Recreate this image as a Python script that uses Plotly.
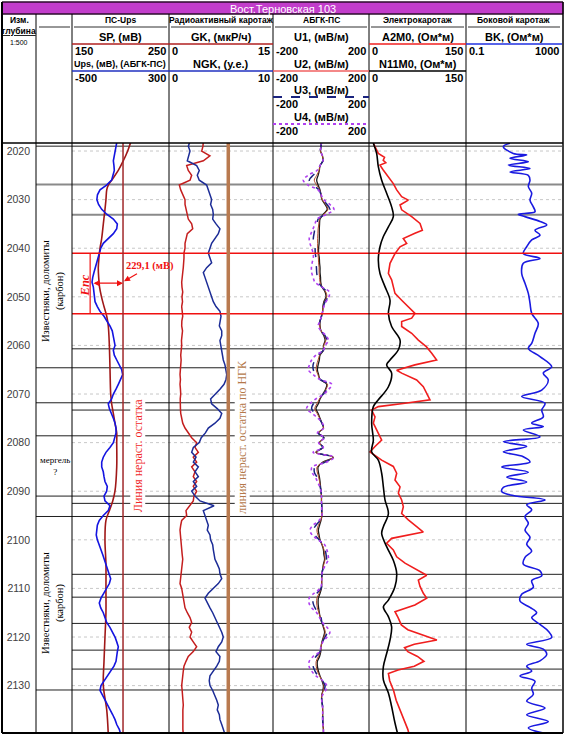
import plotly.graph_objects as go

W, H = 566, 737

# ---------------- data ----------------
DEPTH_1M = list(range(2018, 2141))

SP_DEPTH = [2018, 2020, 2022, 2024, 2026, 2027, 2028, 2030, 2032, 2035, 2038, 2040, 2042, 2044, 2046,
            2048, 2050, 2052, 2054, 2056, 2060, 2065, 2070, 2072, 2074, 2076, 2078, 2080, 2085, 2090,
            2092, 2094, 2096, 2100, 2105, 2110, 2115, 2120, 2125, 2130, 2135, 2140]
SP = [210.8, 207.4, 202.9, 197.7, 190.9, 187.4, 185.8, 185.0, 184.0, 182.3, 180.6, 178.9, 177.8, 177.1, 177.5,
      178.4, 180.4, 183.0, 185.8, 187.4, 188.5, 189.2, 189.9, 190.9, 192.6, 194.3, 196.1, 196.1, 196.1, 194.3,
      192.0, 188.5, 185.0, 184.0, 185.0, 185.0, 185.0, 184.0, 183.0, 182.3, 185.8, 187.4]

UPS = [-129, -137, -145, -154, -159, -154, -151, -162, -173, -215,
       -269, -290, -295, -281, -255, -214, -159, -126, -131, -159,
       -201, -242, -263, -275, -288, -296, -310, -319, -329, -335,
       -324, -319, -316, -310, -291, -269, -236, -209, -187, -168,
       -159, -154, -145, -159, -151, -131, -110, -90, -82, -98,
       -118, -137, -159, -173, -201, -192, -173, -159, -145, -137,
       -137, -145, -159, -187, -220, -242, -255, -255, -242, -236,
       -228, -209, -214, -236, -228, -187, -201, -242, -275, -291,
       -296, -300, -291, -275, -261, -247, -234, -220, -209, -192,
       -181, -192, -214, -236, -261, -275, -263, -242, -228, -214,
       -187, -164, -145, -131, -118, -126, -131, -137, -154, -181,
       -209, -236, -261, -269, -247, -228, -209, -187, -164, -145,
       -131, -110, -98]

GK = [4.95, 4.9, 4.72, 5.9, 4.95, 2.55, 2.78, 3.27, 3.03, 1.49,
      1.69, 2.06, 2.31, 2.31, 2.45, 2.55, 2.78, 3.27, 3.42, 2.64,
      2.45, 2.31, 2.31, 2.16, 2.16, 2.06, 2.06, 1.98, 1.87, 1.83,
      1.87, 1.98, 1.87, 1.95, 1.83, 1.9, 1.98, 1.85, 1.83, 1.95,
      1.87, 1.8, 1.83, 1.75, 1.69, 1.75, 1.69, 1.62, 1.59, 1.65,
      1.59, 1.65, 1.69, 1.62, 1.59, 1.65, 1.69, 1.8, 1.98, 2.31,
      2.78, 3.27, 3.99, 3.75, 4.23, 3.5, 3.99, 3.27, 3.75, 3.5,
      3.99, 3.5, 3.99, 3.6, 3.5, 3.03, 2.45, 2.55, 1.83, 1.69,
      1.59, 1.65, 1.69, 1.75, 1.83, 1.9, 1.98, 1.9, 1.83, 1.75,
      1.69, 1.59, 1.83, 1.95, 2.06, 2.1, 2.31, 2.64, 3.03, 3.27,
      2.92, 3.27, 3.03, 3.5, 3.99, 3.5, 2.78, 2.45, 2.16, 2.06,
      1.98, 1.9, 1.83, 1.9, 1.98, 2.0, 2.06, 2.0, 1.98, 1.95,
      1.98, 2.0, 2.06]

NGK = [2.02, 1.86, 2.02, 1.86, 1.76, 2.66, 2.91, 2.72, 2.91, 3.62,
       3.78, 3.94, 4.1, 4.0, 4.2, 4.26, 4.2, 4.52, 4.9, 4.74,
       4.42, 4.1, 3.94, 3.78, 3.94, 4.1, 3.62, 3.3, 3.46, 3.62,
       3.78, 3.94, 4.1, 4.26, 4.52, 4.9, 5.0, 4.9, 4.84, 5.07,
       5.07, 4.9, 4.97, 5.07, 5.16, 5.22, 5.38, 5.48, 5.55, 5.48,
       5.29, 4.9, 4.42, 4.0, 4.1, 4.64, 5.07, 4.9, 4.42, 3.78,
       3.5, 3.1, 2.91, 2.34, 2.18, 2.6, 2.34, 2.82, 2.5, 2.82,
       2.34, 2.66, 2.18, 2.5, 2.98, 4.33, 3.3, 3.46, 3.62, 3.78,
       3.68, 3.94, 4.0, 4.2, 4.26, 4.33, 4.42, 4.64, 4.84, 4.9,
       5.07, 4.74, 4.26, 3.78, 3.46, 3.68, 3.94, 4.2, 4.42, 4.59,
       4.84, 5.07, 5.22, 5.07, 4.74, 4.52, 4.9, 4.84, 4.59, 4.26,
       3.94, 3.87, 3.94, 4.2, 4.42, 4.59, 4.74, 4.64, 4.84, 4.9,
       5.07, 5.22, 5.38]

U1 = [3, 0, -2, 6, 8, -4, -7, -12, -18, -12,
      -4, 0, 4, 17, 26, 10, -4, -6, -7, -7,
      -7, -8, -10, -10, -7, -6, -4, -4, -2, -1,
      4, 17, 21, 12, 8, 7, 2, -4, -4, 0,
      12, 17, 10, 10, -4, -7, -12, -15, -10, -4,
      24, 19, 8, -4, -11, -21, -12, -4, 4, 10,
      -10, 12, -7, 8, -21, 51, 8, -12, -11, -7,
      -4, -2, 0, 2, 2, 3, 3, 4, 0, -6,
      -11, -8, -4, 4, 10, 12, 15, 10, 7, 4,
      3, 3, 2, -4, -11, -12, -10, -7, -3, 3,
      10, 15, 10, 4, 0, -1, -6, -15, -15, -11,
      -4, 4, 10, 8, 3, 3, 6, 7, 7, 7,
      8, 10, 10]

U2 = [3, 0, -2, 6, 8, -4, -8, -18, -28, -18,
      -5, 0, 5, 20, 29, 12, -6, -9, -12, -13,
      -14, -14, -14, -13, -11, -10, -8, -8, -6, -4,
      4, 20, 24, 14, 9, 7, 2, -4, -5, 0,
      14, 20, 11, 10, -6, -12, -18, -20, -13, -4,
      27, 21, 9, -6, -17, -26, -16, -5, 4, 10,
      -11, 12, -7, 8, -22, 51, 11, -16, -16, -10,
      -6, -3, 0, 2, 2, 3, 3, 4, -1, -11,
      -17, -13, -5, 5, 12, 15, 17, 12, 7, 4,
      3, 3, 1, -8, -17, -18, -15, -9, -2, 3,
      12, 18, 12, 5, 0, -2, -11, -20, -20, -15,
      -6, 5, 12, 9, 3, 3, 6, 7, 7, 7,
      8, 10, 10]

U3 = [3, 0, -2, 6, 8, -4, -12, -33, -49, -33,
      -8, 0, 8, 25, 37, 17, -12, -17, -25, -29,
      -32, -31, -25, -24, -21, -21, -19, -18, -15, -11,
      4, 25, 29, 17, 10, 7, 2, -4, -8, 0,
      17, 25, 12, 10, -12, -25, -33, -32, -21, -4,
      31, 25, 10, -12, -32, -39, -25, -8, 4, 10,
      -12, 12, -8, 8, -25, 51, 17, -25, -28, -18,
      -10, -4, 0, 2, 2, 3, 3, 4, -4, -21,
      -32, -25, -8, 8, 17, 21, 23, 15, 8, 4,
      3, 3, 0, -17, -32, -33, -25, -12, 0, 4,
      17, 25, 17, 6, 0, -4, -21, -32, -33, -25,
      -12, 6, 17, 12, 4, 3, 6, 7, 7, 7,
      8, 10, 10]

U4 = [3, 0, -2, 6, 8, -4, -17, -54, -74, -54,
      -12, 0, 12, 37, 54, 25, -17, -25, -33, -42,
      -49, -46, -39, -33, -32, -37, -40, -39, -33, -25,
      4, 35, 33, 21, 12, 7, 2, -4, -12, 0,
      21, 31, 17, 10, -21, -39, -48, -53, -33, -4,
      45, 33, 12, -21, -46, -60, -37, -12, 6, 12,
      -15, 15, -10, 10, -33, 54, 25, -37, -39, -25,
      -15, -6, 0, 2, 2, 3, 3, 4, -8, -33,
      -46, -37, -12, 15, 24, 29, 31, 21, 10, 4,
      3, 3, -4, -29, -49, -50, -39, -18, -6, 6,
      25, 37, 25, 8, 0, -6, -33, -49, -50, -39,
      -21, 8, 24, 19, 6, 3, 6, 7, 7, 7,
      8, 10, 10]

A2M0_DEPTH = [2018.4, 2019.1, 2020.5, 2021.3, 2021.9, 2022.4, 2022.9, 2023.9, 2025.3, 2026.7,
              2028.0, 2029.4, 2030.1, 2031.1, 2032.1, 2033.5, 2034.9, 2036.3, 2036.9, 2038.0,
              2039.0, 2039.7, 2041.1, 2043.1, 2045.2, 2046.5, 2047.9, 2049.3, 2050.7, 2052.0,
              2053.4, 2054.4, 2055.1, 2056.1, 2057.5, 2058.9, 2060.3, 2061.6, 2063.0, 2064.0,
              2065.1, 2065.7, 2067.1, 2068.5, 2069.9, 2071.2, 2071.9, 2072.6, 2073.3, 2074.7,
              2076.0, 2077.4, 2079.5, 2080.8, 2081.9, 2083.6, 2084.9, 2086.3, 2087.7, 2089.1,
              2090.4, 2091.8, 2093.2, 2094.6, 2095.9, 2097.3, 2098.4, 2099.7, 2100.7, 2102.1,
              2103.5, 2104.8, 2106.2, 2107.3, 2108.3, 2109.6, 2111.0, 2112.0, 2113.4, 2114.8,
              2116.0, 2117.5, 2118.5, 2119.5, 2120.6, 2121.5, 2122.2, 2123.0, 2124.0, 2125.0,
              2126.0, 2126.8, 2127.5, 2129.0, 2131.0, 2133.0, 2135.0, 2137.0, 2139.0, 2140.0]
A2M0 = [6.7, 9.0, 14.4, 24.0, 22.0, 26.0, 17.0, 22.0, 30.0, 37.6,
        42.8, 50.5, 60.8, 48.0, 50.5, 66.0, 78.9, 82.5, 71.0, 53.0,
        58.2, 48.0, 40.2, 32.5, 30.0, 35.0, 37.6, 40.2, 50.5, 60.8,
        71.1, 66.0, 50.5, 50.5, 66.0, 76.3, 89.0, 97.0, 104.6, 71.0,
        42.8, 50.5, 73.7, 84.0, 89.0, 94.3, 55.7, 14.4, 4.1, 9.3,
        6.7, 11.8, 19.6, 9.3, 1.5, 19.6, 37.6, 42.8, 40.2, 48.0,
        45.4, 50.5, 53.1, 50.5, 60.8, 73.7, 84.0, 35.0, 27.3, 37.6,
        42.8, 55.7, 73.7, 89.2, 76.3, 78.9, 84.0, 89.2, 71.0, 40.2,
        45.0, 50.0, 60.0, 80.0, 105.0, 70.0, 55.0, 60.0, 75.0, 85.0,
        70.0, 45.0, 30.0, 32.0, 38.0, 42.0, 48.0, 55.0, 60.0, 62.0]

N11_DEPTH = [2018.4, 2020.5, 2023.2, 2026.0, 2028.7, 2031.5, 2033.5, 2035.6, 2037.6, 2039.7,
             2042.4, 2045.2, 2047.9, 2050.7, 2053.4, 2056.1, 2058.9, 2060.9, 2063.0, 2064.0,
             2065.7, 2068.5, 2071.2, 2072.6, 2076.0, 2079.5, 2081.9, 2083.6, 2086.3, 2089.1,
             2091.8, 2094.6, 2097.3, 2098.7, 2101.4, 2104.2, 2106.9, 2109.6, 2112.4, 2113.8,
             2115.8, 2117.9, 2120.6, 2123.4, 2126.1, 2128.8, 2131.5, 2134.3, 2137.7, 2140.5]
N11M0 = [6.7, 11.8, 14.4, 19.6, 27.3, 35.0, 37.6, 30.0, 22.2, 17.0,
         14.4, 17.0, 24.7, 32.5, 30.0, 35.0, 48.0, 45.4, 32.5, 27.3,
         35.0, 30.0, 14.4, 6.7, 4.1, 6.7, 4.1, 14.4, 19.6, 22.2,
         24.7, 30.0, 22.2, 19.6, 27.3, 37.6, 42.8, 40.2, 30.0, 22.2,
         30.0, 35.0, 32.5, 27.3, 22.2, 22.2, 30.0, 35.0, 40.2, 45.4]

BK_DEPTH = [2018.4, 2019.1, 2020.5, 2020.8, 2021.5, 2022.2, 2022.9, 2023.6, 2024.3, 2025.0,
            2026.0, 2027.3, 2028.7, 2030.1, 2031.5, 2032.5, 2033.0, 2033.5, 2034.5, 2035.2,
            2036.3, 2037.3, 2038.3, 2039.7, 2041.1, 2042.1, 2043.1, 2045.2, 2047.2, 2049.3,
            2051.3, 2053.4, 2055.5, 2057.5, 2059.6, 2060.6, 2062.3, 2064.4, 2065.7, 2067.1,
            2069.2, 2070.5, 2071.9, 2073.3, 2074.7, 2076.0, 2076.7, 2077.4, 2078.8, 2079.8,
            2080.8, 2081.9, 2082.9, 2084.0, 2085.0, 2086.1, 2087.1, 2088.1, 2089.2, 2090.1,
            2090.9, 2091.8, 2092.8, 2093.8, 2095.2, 2096.6, 2098.0, 2099.5, 2100.9, 2102.3,
            2103.6, 2105.0, 2106.4, 2107.4, 2108.4, 2109.8, 2111.2, 2112.6, 2113.9, 2115.0,
            2116.0, 2117.4, 2118.8, 2120.1, 2121.5, 2122.5, 2123.6, 2124.9, 2126.0, 2127.0,
            2128.0, 2129.1, 2130.5, 2131.8, 2133.2, 2134.6, 2136.0, 2137.4, 2138.7, 2139.8]
BK = [6.8, 3.6, 9.3, 33.8, 6.8, 39.5, 5.8, 46.4, 6.8, 39.5,
      46.4, 39.5, 54.7, 46.4, 63.7, 75, 15.1, 28.7, 121, 231,
      75, 121, 54.7, 33.8, 24.4, 121, 24.4, 20.9, 28.7, 39.5,
      46.4, 54.7, 103, 75, 54.7, 39.5, 121, 372, 166, 269,
      143, 20.9, 196, 143, 166, 54.7, 166, 24.4, 121, 3.6,
      33.8, 3.6, 24.4, 46.4, 3.1, 39.5, 5.0, 33.8, 3.6, 3.1,
      9.3, 196, 33.8, 54.7, 28.7, 39.5, 28.7, 46.4, 33.8, 54.7,
      28.7, 24.4, 121, 143, 54.7, 63.7, 20.9, 17.8, 46.4, 88,
      54.7, 121, 269, 372, 33.8, 166, 231, 121, 33.8, 54.7,
      17.8, 75, 54.7, 63.7, 33.8, 196, 33.8, 269, 39.5, 196]

# interpretation marks
BOUND_FULL = [2019.0, 2064.6, 2071.8, 2078.6, 2091.0, 2095.2, 2130.9]
BOUND_PART = [2060.7, 2073.3, 2092.5, 2107.1, 2111.8, 2117.2, 2122.7, 2126.6]
BOUND_GREY = [2026.9, 2033.1]
BOUND_RED = [2041.05, 2053.5]
SP_RESIDUAL = 202.6
NGK_RESIDUAL = 5.7
ENE_DEPTH = 2047.2
ENE_LEFT = 170.6
ENE_BAR = 168.7
DEPTH_TICKS = [2020, 2030, 2040, 2050, 2060, 2070, 2080, 2090, 2100, 2110, 2120, 2130, 2140]

# ---------------- layout helpers ----------------
def px(x):
    return x / W

def py(y):
    return 1 - y / H

TOP, BOT = 143, 733
TR = {"depth": (2, 36), "lith": (36, 72), "sp": (72, 169), "gk": (169, 273),
      "abgk": (273, 369), "el": (369, 466), "bk": (466, 562)}

fig = go.Figure()

def add(xv, yv, axis, color, width=1.5, dash="solid", shape="linear"):
    fig.add_trace(go.Scatter(x=xv, y=yv, xaxis=axis, yaxis="y", mode="lines",
                             line=dict(color=color, width=width, dash=dash, shape=shape),
                             showlegend=False, hoverinfo="skip"))

add(UPS, DEPTH_1M, "x2", "#1414E0", 1.6)
add(SP, SP_DEPTH, "x", "#A01818", 1.6, shape="spline")
add(GK, DEPTH_1M, "x3", "#C41E1E", 1.5)
add(NGK, DEPTH_1M, "x4", "#1C2C96", 1.5)
add(U4, DEPTH_1M, "x8", "#B040F0", 1.6, "dot", "spline")
add(U3, DEPTH_1M, "x7", "#1A237E", 1.5, "dash", "spline")
add(U2, DEPTH_1M, "x6", "#B04A2A", 1.0, shape="spline")
add(U1, DEPTH_1M, "x5", "#1A1A1A", 1.3, shape="spline")
add(N11M0, N11_DEPTH, "x10", "#000000", 1.6, shape="spline")
add(A2M0, A2M0_DEPTH, "x9", "#F01E1E", 1.6)
add(BK, BK_DEPTH, "x11", "#1A1AE0", 1.6, shape="spline")

hidden = dict(visible=False, showgrid=False, zeroline=False, anchor="y")
axes = {
    "xaxis": dict(domain=[px(TR["sp"][0]), px(TR["sp"][1])], range=[150, 250]),
    "xaxis2": dict(overlaying="x", range=[-500, 300]),
    "xaxis3": dict(domain=[px(TR["gk"][0]), px(TR["gk"][1])], range=[0, 15]),
    "xaxis4": dict(overlaying="x3", range=[0, 10]),
    "xaxis5": dict(domain=[px(TR["abgk"][0]), px(TR["abgk"][1])], range=[-200, 200]),
    "xaxis6": dict(overlaying="x5", range=[-200, 200]),
    "xaxis7": dict(overlaying="x5", range=[-200, 200]),
    "xaxis8": dict(overlaying="x5", range=[-200, 200]),
    "xaxis9": dict(domain=[px(TR["el"][0]), px(TR["el"][1])], range=[0, 150]),
    "xaxis10": dict(overlaying="x9", range=[0, 150]),
    "xaxis11": dict(domain=[px(TR["bk"][0]), px(TR["bk"][1])], type="log", range=[-1, 3]),
}
for k, v in axes.items():
    d = dict(hidden)
    d.update(v)
    fig.update_layout(**{k: d})

fig.update_layout(
    width=W, height=H, margin=dict(l=0, r=0, t=0, b=0),
    paper_bgcolor="white", plot_bgcolor="white",
    yaxis=dict(domain=[py(BOT), py(TOP)], range=[2139.75, 2018.35], anchor="free", position=px(36),
               tickvals=DEPTH_TICKS, ticks="", showgrid=False, zeroline=False, showline=False,
               tickfont=dict(family="Liberation Sans", size=10.5, color="#404040"),
               ticklabelstandoff=6),
)

shapes = []
ann = []

def hline(x0, x1, y, color="black", width=1, dash="solid"):
    shapes.append(dict(type="line", xref="paper", yref="paper", x0=px(x0), x1=px(x1),
                       y0=py(y), y1=py(y), line=dict(color=color, width=width, dash=dash)))

def vline(x, y0, y1, color="black", width=1):
    shapes.append(dict(type="line", xref="paper", yref="paper", x0=px(x), x1=px(x),
                       y0=py(y0), y1=py(y1), line=dict(color=color, width=width)))

def text(x, y, s, size=10, color="black", bold=True, xanchor="center", family="Liberation Sans"):
    ann.append(dict(x=px(x), y=py(y), xref="paper", yref="paper", text=s, showarrow=False,
                    xanchor=xanchor, yanchor="middle",
                    font=dict(family=family, size=size, color=color, weight="bold" if bold else "normal")))

# depth grid (dashed) in tracks
for d in DEPTH_TICKS:
    shapes.append(dict(type="line", xref="paper", yref="y", x0=px(72), x1=px(562), y0=d, y1=d,
                       line=dict(color="#C8C8C8", width=1, dash="3px,3px"), layer="below"))
for d in BOUND_FULL:
    shapes.append(dict(type="line", xref="paper", yref="y", x0=px(36), x1=px(562), y0=d, y1=d,
                       line=dict(color="#202020", width=1), layer="below"))
for d in BOUND_PART:
    shapes.append(dict(type="line", xref="paper", yref="y", x0=px(72), x1=px(562), y0=d, y1=d,
                       line=dict(color="#202020", width=1), layer="below"))
for d in BOUND_GREY:
    shapes.append(dict(type="line", xref="paper", yref="y", x0=px(36 if d < 2030 else 72), x1=px(562), y0=d, y1=d,
                       line=dict(color="#8A8A8A", width=2), layer="below"))
for d in BOUND_RED:
    shapes.append(dict(type="line", xref="paper", yref="y", x0=px(72), x1=px(562), y0=d, y1=d,
                       line=dict(color="#F01010", width=1.5)))

# residual lines
shapes.append(dict(type="line", xref="x", yref="y domain", x0=SP_RESIDUAL, x1=SP_RESIDUAL, y0=0, y1=1,
                   line=dict(color="#A0282A", width=1.5)))
shapes.append(dict(type="line", xref="x4", yref="y domain", x0=NGK_RESIDUAL, x1=NGK_RESIDUAL, y0=0, y1=1,
                   line=dict(color="#B97A4F", width=3.5)))
# Ene bar
shapes.append(dict(type="line", xref="x", yref="y", x0=ENE_BAR, x1=ENE_BAR, y0=BOUND_RED[0], y1=BOUND_RED[1],
                   line=dict(color="#F01010", width=1.2)))

# frame / track separators
for x in [36, 72, 169, 273, 369, 466]:
    vline(x, 14, BOT, "black", 1)
vline(2, 2, BOT, "black", 2)
vline(563, 2, BOT, "black", 1.5)
hline(2, 563, 14, "black", 1)
hline(2, 563, TOP, "black", 1.5)
hline(2, 563, BOT, "black", 2)
hline(2, 563, 2, "black", 1)

# title bar
shapes.append(dict(type="rect", xref="paper", yref="paper", x0=px(2), x1=px(563), y0=py(14), y1=py(2),
                   fillcolor="#C23DCB", line=dict(color="#802080", width=1), layer="below"))
text(283, 8.5, "Вост.Терновская 103", 11, "white", bold=False)

# header: depth column
text(19, 20, "Изм.", 8.5)
text(19, 31, "<u>глубина</u>", 8.5)
text(19, 43, "1:500", 7, bold=False)
hline(39, 70, 27, "#303030", 1)

tracks_hdr = [
    ("sp", "ПС-Ups"), ("gk", "Радиоактивный каротаж"), ("abgk", "АБГК-ПС"),
    ("el", "Электрокаротаж"), ("bk", "Боковой каротаж")]
for key, t in tracks_hdr:
    x0, x1 = TR[key]
    text((x0 + x1) / 2, 20, t, 8.5)
    hline(x0 + 2, x1 - 2, 27, "#303030", 1)

def curve_hdr(key, ylab, label, lcolor, lo, hi, ldash="solid", lwidth=1.5, size=11):
    x0, x1 = TR[key]
    text((x0 + x1) / 2, ylab, label, size)
    if lcolor:
        hline(x0, x1, ylab + 7, lcolor, lwidth, ldash)
    text(x0 + 1, ylab + 14, lo, 11, xanchor="left")
    text(x1 - 1, ylab + 14, hi, 11, xanchor="right")

curve_hdr("sp", 37, "SP, (мВ)", "#B02020", "150", "250")
curve_hdr("sp", 64, "Ups, (мВ), (АБГК-ПС)", "#2030C0", "-500", "300", size=9)
curve_hdr("gk", 37, "GK, (мкР/ч)", "#B02020", "0", "15")
curve_hdr("gk", 64, "NGK, (у.е.)", "#2030C0", "0", "10")
curve_hdr("abgk", 37, "U1, (мВ/м)", None, "-200", "200")
curve_hdr("abgk", 64, "U2, (мВ/м)", "#F06060", "-200", "200")
curve_hdr("abgk", 90, "U3, (мВ/м)", "#1A237E", "-200", "200", "dash", 2)
curve_hdr("abgk", 117, "U4, (мВ/м)", "#B040F0", "-200", "200", "dot", 2)
curve_hdr("el", 37, "A2M0, (Ом*м)", "#F02020", "0", "150")
curve_hdr("el", 64, "N11M0, (Ом*м)", "#000000", "0", "150")
curve_hdr("bk", 37, "BK, (Ом*м)", "#2030E0", "0.1", "1000")

# lithology texts
serif = "Liberation Serif"
C = dict(xanchor="center", yanchor="middle", showarrow=False)
ann.append(dict(x=px(53), y=2048.8, xref="paper", yref="y", text="Известняки, доломиты<br>(карбон)",
                textangle=-90, font=dict(family=serif, size=10.5, color="black"), **C))
ann.append(dict(x=px(53), y=2113.0, xref="paper", yref="y", text="Известняки, доломиты<br>(карбон)",
                textangle=-90, font=dict(family=serif, size=10.5, color="black"), **C))
ann.append(dict(x=px(55), y=2084.8, xref="paper", yref="y", text="мергель<br>?",
                font=dict(family=serif, size=9, color="black"), **C))

# residual line labels
ann.append(dict(x=px(138), y=2082.6, xref="paper", yref="y", text="Линия нераст. остатка",
                textangle=-90, bgcolor="white", borderpad=0,
                font=dict(family=serif, size=12, color="#F02828"), **C))
ann.append(dict(x=px(242), y=2078.8, xref="paper", yref="y", text="линия нераст. остатка по НГК",
                textangle=-90, bgcolor="white", borderpad=0,
                font=dict(family=serif, size=12, color="#B4784A"), **C))

# Ene arrow
ann.append(dict(x=SP_RESIDUAL, y=ENE_DEPTH, xref="x", yref="y", ax=ENE_LEFT, ay=ENE_DEPTH,
                axref="x", ayref="y", text="", showarrow=True, arrowhead=2, arrowside="end+start",
                arrowsize=1, arrowwidth=1.2, arrowcolor="#F01010"))
ann.append(dict(x=SP_RESIDUAL + 1, y=ENE_DEPTH - 0.4, xref="x", yref="y", ax=26, ay=-15,
                text="<b>229,1 (мВ)</b>", showarrow=True, arrowhead=2, arrowsize=1, arrowwidth=1.2,
                arrowcolor="#F01010", font=dict(family=serif, size=10.5, color="#F01010")))
ann.append(dict(x=ENE_BAR - 5.5, y=ENE_DEPTH + 0.5, xref="x", yref="y", text="<b><i>Епс</i></b>",
                textangle=-90, font=dict(family=serif, size=12.5, color="#F01010"), **C))

fig.update_layout(shapes=shapes, annotations=ann)
fig.write_html("out.html")
